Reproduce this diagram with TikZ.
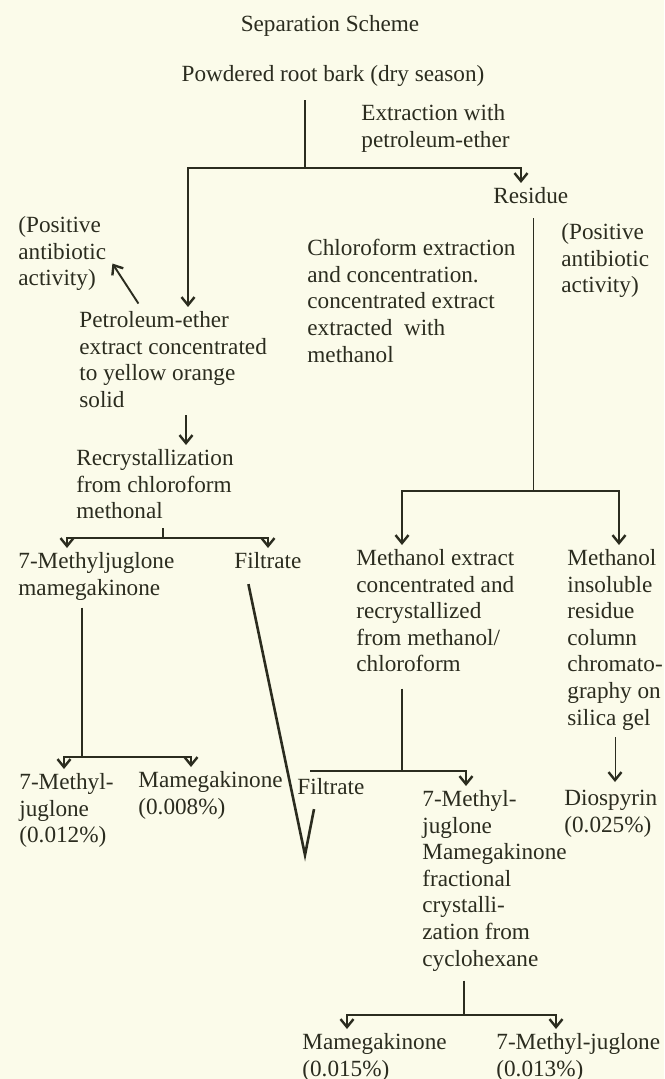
\documentclass[tikz,border=0pt]{standalone}
\usepackage{fontspec}
\setmainfont{Liberation Serif}
\usetikzlibrary{arrows.meta,calc}
\definecolor{ssInk}{HTML}{2B2C1F}
\definecolor{ssPaper}{HTML}{FBFBEA}
\tikzset{
  lbl/.style      ={anchor=north west,align=left,inner sep=0pt,text=ssInk,
                    font=\fontsize{11.6}{13.3}\selectfont},
  clbl/.style     ={lbl,anchor=base},
  wire/.style     ={draw=ssInk,line width=0.95pt},
  thinwire/.style ={draw=ssInk,line width=0.45pt},
  vwire/.style    ={draw=ssInk,line width=1.3pt,line join=miter},
  fork/.style     ={wire,-{Straight Barb[length=4pt,width=6.5pt,line width=1.2pt]}},
  thinfork/.style ={thinwire,-{Straight Barb[length=4pt,width=6.5pt,line width=1.2pt]}},
}

\begin{document}
\begin{tikzpicture}[x=0.5pt,y={(0pt,-0.5pt)}]
\fill[ssPaper] (0,0) rectangle (664,1079);
\useasboundingbox (0,0) rectangle (664,1079);

%% heading and starting material
\node[clbl] (title) at (330,32) {Separation Scheme};
\node[clbl] (root)  at (333,82) {Powdered root bark (dry season)};
\node[lbl]  (extr)  at (361,104) {Extraction with\\petroleum-ether};

%% all text blocks (placed by their top left corner)
\node[lbl] (residue) at (493,187) {Residue};
\node[lbl] (posL)    at (18,216)  {(Positive\\antibiotic\\activity)};
\node[lbl] (posR)    at (561,223) {(Positive\\antibiotic\\activity)};
\node[lbl] (chloro)  at (307,239) {Chloroform extraction\\and concentration.\\concentrated extract\\extracted\ \ with\\methanol};
\node[lbl] (petrol)  at (79,311)  {Petroleum-ether\\extract concentrated\\to yellow orange\\solid};
\node[lbl] (recry)   at (76,449)  {Recrystallization\\from chloroform\\methonal};
\node[lbl] (mj)      at (18,552)  {7-Methyljuglone\\mamegakinone};
\node[lbl] (filtA)   at (234,552) {Filtrate};
\node[lbl] (methx)   at (356,549) {Methanol extract\\concentrated and\\recrystallized\\from methanol/\\chloroform};
\node[lbl] (methin)  at (567,549) {Methanol\\insoluble\\residue\\column\\chromato-\\graphy on\\silica gel};
\node[lbl] (mjug)    at (19,773)  {7-Methyl-\\juglone\\(0.012\%)};
\node[lbl] (mame)    at (138,771) {Mamegakinone\\(0.008\%)};
\node[lbl] (filtB)   at (297,778) {Filtrate};
\node[lbl] (mixt)    at (422,790) {7-Methyl-\\juglone\\Mamegakinone\\fractional\\crystalli-\\zation from\\cyclohexane};
\node[lbl] (diosp)   at (564,790) {Diospyrin\\(0.025\%)};
\node[lbl] (mameB)   at (302,1033) {Mamegakinone\\(0.015\%)};
\node[lbl] (mjB)     at (496,1033) {7-Methyl-juglone\\(0.013\%)};

%% junctions and branch ends
\coordinate (j1) at (305,168);  \coordinate (bL) at (188,168);  \coordinate (bR) at (521,168);
\coordinate (j2) at (533,491);  \coordinate (bA) at (402,491);  \coordinate (bB) at (619,491);
\coordinate (j3) at (163,538);  \coordinate (bM) at (67,538);   \coordinate (bF) at (268,538);
\coordinate (j4) at (82,757);   \coordinate (bJ) at (64,757);   \coordinate (bK) at (191,757);
\coordinate (j5) at (402,771);  \coordinate (bG) at (310,771);  \coordinate (bH) at (466,771);
\coordinate (j6) at (464,1015); \coordinate (bP) at (347,1015); \coordinate (bQ) at (556,1015);
\coordinate (a1) at (186,415);  \coordinate (a2) at (615,737);

%% stems
\draw[wire]     ([yshift=-6.5pt]root.south -| j1) -- (j1);
\draw[thinwire] ([yshift=-7pt]residue.south -| j2) -- (j2);
\draw[wire]     ([yshift=-4.5pt]recry.south -| j3) -- (j3);
\draw[wire]     ([yshift=-3.5pt]mj.south -| j4) -- (j4);
\draw[wire]     ([yshift=-8pt]methx.south -| j5) -- (j5);
\draw[wire]     ([yshift=-4.5pt]mixt.south -| j6) -- (j6);

%% forks
\foreach \j/\b/\n in {j1/bL/petrol, j1/bR/residue, j2/bA/methx, j2/bB/methin,
                      j3/bM/mj, j3/bF/filtA, j4/bJ/mjug, j4/bK/mame,
                      j5/bH/mixt, j6/bP/mameB, j6/bQ/mjB}
  \draw[fork] (\j) -- (\b) -- ([yshift=2pt]\b |- \n.north);
\draw[wire] (j5) -- (bG);

%% single arrows
\draw[fork] (a1) -- ([yshift=2pt]a1 |- recry.north);
\draw[thinfork] (a2) -- ([yshift=4pt]a2 |- diosp.north);
\draw[fork] ([shift={(16pt,-25pt)}]posL.east) -- ([shift={(3pt,-5pt)}]posL.east);

%% filtrate trace
\coordinate (vB) at (305,855);
\draw[vwire] ([shift={(-9.75pt,-7.5pt)}]filtA.south) -- (vB) -- ([shift={(4.5pt,-7pt)}]vB |- filtB.south);
\end{tikzpicture}
\end{document}
